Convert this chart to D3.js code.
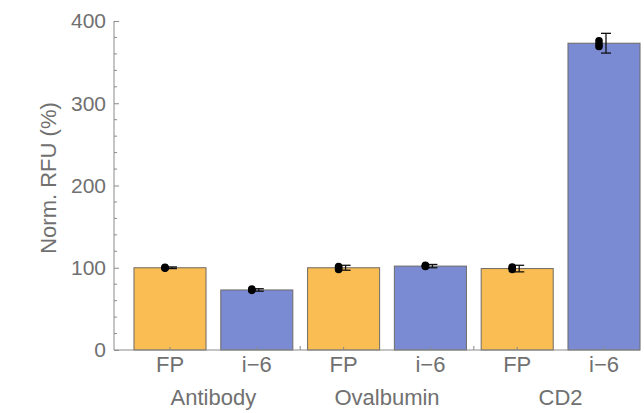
<!DOCTYPE html>
<html>
<head>
<meta charset="utf-8">
<script src="https://cdn.jsdelivr.net/npm/d3@7"></script>
<style>
  body { margin: 0; background: #fff; }
  text { font-family: "Liberation Sans", Arial, sans-serif; fill: #707070; }
</style>
</head>
<body>
<div id="chart"></div>
<script>
// data
var groups = ["Antibody", "Ovalbumin", "CD2"];
var series = ["FP", "i\u22126"];
var means = [100, 73, 100, 102, 99, 373];
var errors = [1, 1.5, 3, 2, 4, 12];
var replicates = [
  [100, 100.5, 99.5],
  [72.5, 73, 74],
  [98, 100, 101.5],
  [101.5, 102, 103],
  [98, 99.5, 101],
  [369, 372, 376]
];
var yTicks = [0, 100, 200, 300, 400];

var width = 644, height = 413;
var colors = { "FP": "#f9bd53", "i\u22126": "#7a8ad3" };
var fontSize = "22px";

var bars = [];
groups.forEach(function (g, gi) {
  series.forEach(function (s, si) {
    var k = gi * series.length + si;
    bars.push({ key: g + "|" + s, group: g, series: s, mean: means[k], err: errors[k], reps: replicates[k] });
  });
});

var svg = d3.select("#chart").append("svg")
  .attr("width", width)
  .attr("height", height);

var yScale = d3.scaleLinear().domain([0, 400]).range([350, 21]);
var xScale = d3.scaleBand()
  .domain(bars.map(function (d) { return d.key; }))
  .range([126.6, 647.4])
  .paddingInner(0.17)
  .paddingOuter(0.085);

var axisColor = "#8a8a8a";

// bars
svg.selectAll("rect.bar")
  .data(bars)
  .enter().append("rect")
  .attr("class", "bar")
  .attr("x", function (d) { return xScale(d.key); })
  .attr("y", function (d) { return yScale(d.mean); })
  .attr("width", xScale.bandwidth())
  .attr("height", function (d) { return yScale(0) - yScale(d.mean); })
  .attr("fill", function (d) { return colors[d.series]; })
  .attr("stroke", "#6d6a66")
  .attr("stroke-width", 1);

// y axis
var yAxis = d3.axisRight(yScale).tickValues(yTicks).tickSize(5).tickFormat("");
var yg = svg.append("g").attr("transform", "translate(114,0)").call(yAxis);
yg.select(".domain").attr("stroke", axisColor).attr("d", "M0," + yScale(0) + "V" + yScale(400));
yg.selectAll(".tick line").attr("stroke", axisColor);
var minor = d3.range(0, 401, 20).filter(function (v) { return v % 100 !== 0; });
yg.selectAll("line.minor").data(minor).enter().append("line")
  .attr("class", "minor")
  .attr("x1", 0).attr("x2", 3)
  .attr("y1", function (d) { return yScale(d); })
  .attr("y2", function (d) { return yScale(d); })
  .attr("stroke", axisColor);
svg.selectAll("text.ytick").data(yTicks).enter().append("text")
  .attr("class", "ytick")
  .attr("x", 106)
  .attr("y", function (d) { return yScale(d); })
  .attr("dy", "0.35em")
  .attr("text-anchor", "end")
  .style("font-size", "21px")
  .text(function (d) { return d; });

svg.append("text")
  .attr("transform", "translate(56,178) rotate(-90)")
  .attr("text-anchor", "middle")
  .style("font-size", fontSize)
  .text("Norm. RFU (%)");

// x axis
var last = bars[bars.length - 1];
svg.append("line")
  .attr("x1", 114).attr("x2", xScale(last.key) + xScale.bandwidth())
  .attr("y1", yScale(0)).attr("y2", yScale(0))
  .attr("stroke", axisColor);
svg.selectAll("line.xtick").data(bars).enter().append("line")
  .attr("class", "xtick")
  .attr("x1", function (d) { return xScale(d.key) + xScale.bandwidth() / 2; })
  .attr("x2", function (d) { return xScale(d.key) + xScale.bandwidth() / 2; })
  .attr("y1", yScale(0)).attr("y2", yScale(0) - 3)
  .attr("stroke", axisColor);
// group separators
var seps = groups.slice(1).map(function (g, i) {
  var prev = bars[(i + 1) * series.length - 1], next = bars[(i + 1) * series.length];
  return (xScale(prev.key) + xScale.bandwidth() + xScale(next.key)) / 2;
});
svg.selectAll("line.sep").data(seps).enter().append("line")
  .attr("class", "sep")
  .attr("x1", function (d) { return d; }).attr("x2", function (d) { return d; })
  .attr("y1", yScale(0)).attr("y2", yScale(0) - 4)
  .attr("stroke", axisColor);

svg.selectAll("text.xlab").data(bars).enter().append("text")
  .attr("class", "xlab")
  .attr("x", function (d) { return xScale(d.key) + xScale.bandwidth() / 2; })
  .attr("y", 372)
  .attr("text-anchor", "middle")
  .style("font-size", fontSize)
  .text(function (d) { return d.series; });

svg.selectAll("text.glab").data(groups).enter().append("text")
  .attr("class", "glab")
  .attr("x", function (g, i) {
    var a = bars[i * series.length], b = bars[i * series.length + series.length - 1];
    return (xScale(a.key) + xScale(b.key) + xScale.bandwidth()) / 2;
  })
  .attr("y", 405)
  .attr("text-anchor", "middle")
  .style("font-size", fontSize)
  .text(function (d) { return d; });

// error bars
var eb = svg.selectAll("g.err").data(bars).enter().append("g")
  .attr("class", "err")
  .attr("transform", function (d) { return "translate(" + (xScale(d.key) + xScale.bandwidth() / 2 + 2) + ",0)"; });
eb.append("line")
  .attr("x1", 0).attr("x2", 0)
  .attr("y1", function (d) { return yScale(d.mean + d.err); })
  .attr("y2", function (d) { return yScale(d.mean - d.err); })
  .attr("stroke", "#111").attr("stroke-width", 1.3);
eb.append("line")
  .attr("x1", -5).attr("x2", 5)
  .attr("y1", function (d) { return yScale(d.mean + d.err); })
  .attr("y2", function (d) { return yScale(d.mean + d.err); })
  .attr("stroke", "#111").attr("stroke-width", 1.3);
eb.append("line")
  .attr("x1", -5).attr("x2", 5)
  .attr("y1", function (d) { return yScale(d.mean - d.err); })
  .attr("y2", function (d) { return yScale(d.mean - d.err); })
  .attr("stroke", "#111").attr("stroke-width", 1.3);

// replicate points
bars.forEach(function (b) {
  svg.selectAll(null).data(b.reps).enter().append("circle")
    .attr("cx", xScale(b.key) + xScale.bandwidth() / 2 - 5)
    .attr("cy", function (v) { return yScale(v); })
    .attr("r", 3.8)
    .attr("fill", "#000");
});
</script>
</body>
</html>
